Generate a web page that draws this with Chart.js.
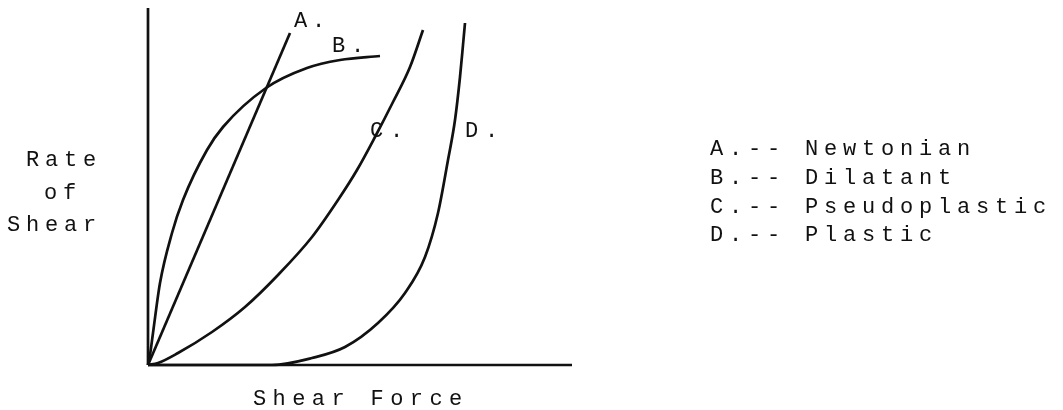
<!DOCTYPE html>
<html>
<head>
<meta charset="utf-8">
<script src="https://cdn.jsdelivr.net/npm/chart.js@4"></script>
<style>
  html, body { margin: 0; padding: 0; background: #fff; }
  #wrap { width: 1063px; height: 410px; }
</style>
</head>
<body>
<div id="wrap"><canvas id="flowChart" width="1063" height="410"></canvas></div>
<script>
// curve data, shear force (x) vs rate of shear (y), arbitrary units
const newtonianX = [0, 142];
const newtonianY = [0, 332];
const dilatantX = [0, 2, 5, 12, 24, 35, 59, 75, 118, 159, 192, 232];
const dilatantY = [0, 10, 32, 82, 132, 165, 215, 238, 277, 297, 305, 309];
const pseudoX = [0, 10, 30, 64, 97, 130, 164, 190, 209, 227, 245, 262, 275];
const pseudoY = [0, 2, 12, 33, 58, 90, 128, 165, 195, 228, 263, 298, 335];
const plasticX = [0, 124, 164, 197, 230, 257, 277, 290, 300, 307, 312, 315, 317];
const plasticY = [0, 0, 7, 18, 42, 72, 108, 152, 205, 245, 288, 320, 342];
const axisMax = [424, 357];

const curveLabels = ['A.', 'B.', 'C.', 'D.'];
const legendLines = ['A.-- Newtonian', 'B.-- Dilatant', 'C.-- Pseudoplastic', 'D.-- Plastic'];
const yTitle = ['Rate', 'of', 'Shear'];
const xTitle = 'Shear Force';

const ink = '#111';
const toPoints = (xs, ys) => xs.map((x, i) => ({ x: x, y: ys[i] }));

function curve(xs, ys) {
    return {
        data: toPoints(xs, ys),
        showLine: true,
        borderColor: ink,
        borderWidth: 2.7,
        pointRadius: 0,
        cubicInterpolationMode: 'monotone',
        clip: false
    };
}

// typewriter style text, one character per fixed pitch
function typed(ctx, text, x, y, pitch) {
    for (let i = 0; i < text.length; i++) {
        ctx.fillText(text[i], x + i * pitch, y);
    }
}

const textPlugin = {
    id: 'typedText',
    afterDraw(chart) {
        const ctx = chart.ctx;
        ctx.save();
        ctx.fillStyle = '#111';
        ctx.font = '22px "Liberation Mono"';
        ctx.textAlign = 'left';
        ctx.textBaseline = 'alphabetic';

        const labelPos = [[294, 27, 18], [332, 52, 19], [370, 137, 20], [465, 137, 20]];
        curveLabels.forEach((t, i) => typed(ctx, t, labelPos[i][0], labelPos[i][1], labelPos[i][2]));

        const legendBase = [155, 184, 213, 241];
        legendLines.forEach((t, i) => typed(ctx, t, 710, legendBase[i], 19));

        const yPos = [[26, 166], [44, 199], [7, 231]];
        yTitle.forEach((t, i) => typed(ctx, t, yPos[i][0], yPos[i][1], 19));

        typed(ctx, xTitle, 253, 405, 19.6);
        ctx.restore();
    }
};

const ctx = document.getElementById('flowChart').getContext('2d');
const flowChart = new Chart(ctx, {
    type: 'scatter',
    data: {
        datasets: [
            curve([0, 0], [0, axisMax[1]]),
            curve([0, axisMax[0]], [0, 0]),
            curve(newtonianX, newtonianY),
            curve(dilatantX, dilatantY),
            curve(pseudoX, pseudoY),
            curve(plasticX, plasticY)
        ]
    },
    options: {
        responsive: false,
        animation: false,
        layout: { padding: { left: 148, right: 491, top: 8, bottom: 45 } },
        scales: {
            x: { type: 'linear', min: 0, max: axisMax[0], display: false },
            y: { type: 'linear', min: 0, max: axisMax[1], display: false }
        },
        plugins: {
            legend: { display: false },
            tooltip: { enabled: false }
        }
    },
    plugins: [textPlugin]
});
</script>
</body>
</html>
